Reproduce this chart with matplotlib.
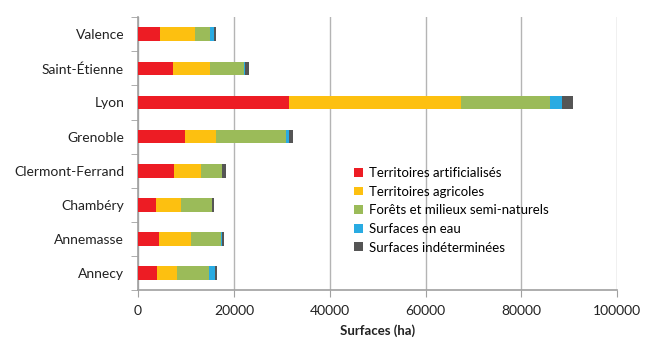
import numpy as np
import matplotlib.pyplot as plt
from matplotlib.patches import Patch

plt.rcParams['font.family'] = ['Lato', 'DejaVu Sans']

villes = ["Annecy", "Annemasse", "Chambéry", "Clermont-Ferrand",
          "Grenoble", "Lyon", "Saint-Étienne", "Valence"]

# surfaces en hectares, même ordre que villes
artificialises = [4000, 4300, 3800, 7600, 9700, 31600, 7400, 4500]
agricoles = [4100, 6800, 5200, 5600, 6500, 35800, 7700, 7300]
forets = [6700, 6300, 6400, 4300, 14700, 18600, 7100, 3300]
eau = [1200, 200, 50, 100, 700, 2500, 200, 700]
indetermines = [400, 300, 300, 800, 800, 2300, 700, 400]

series = [
    ("Territoires artificialisés", artificialises, "#ED1C24"),
    ("Territoires agricoles", agricoles, "#FDC010"),
    ("Forêts et milieux semi-naturels", forets, "#9BBB59"),
    ("Surfaces en eau", eau, "#29ABE2"),
    ("Surfaces indéterminées", indetermines, "#555555"),
]

fig = plt.figure(figsize=(6.45, 3.43), dpi=100)
ax = fig.add_axes([0.214, 0.154, 0.743, 0.796])

y = np.arange(len(villes))
left = np.zeros(len(villes))
for nom, vals, couleur in series:
    ax.barh(y, vals, left=left, height=0.4, color=couleur, zorder=3)
    left += np.array(vals)

ax.set_xlim(0, 100000)
ax.set_ylim(-0.5, len(villes) - 0.5)
ax.set_xticks(np.arange(0, 100001, 20000))
ax.set_yticks(y)
ax.set_yticklabels(villes)
ax.set_yticks(np.arange(-0.5, len(villes), 1.0), minor=True)
ax.tick_params(axis='y', which='major', length=0, pad=10, labelsize=10, colors='#222222')
ax.tick_params(axis='y', which='minor', length=5, color='#A0A0A0')
ax.tick_params(axis='x', length=5, color='#A0A0A0', labelsize=10, colors='#222222', pad=6)

ax.grid(axis='x', color='#B4B4B4', linewidth=1, zorder=0)
for s in ['top', 'right']:
    ax.spines[s].set_visible(False)
for s in ['left', 'bottom']:
    ax.spines[s].set_color('#A0A0A0')
    ax.spines[s].set_linewidth(1.2)

ax.set_xlabel("Surfaces (ha)", fontsize=9.5, fontweight='bold', color='#222222', labelpad=5)

handles = [Patch(facecolor=c, label=n) for n, _, c in series]
ax.legend(handles=handles, loc='upper left', bbox_to_anchor=(0.44, 0.47),
          frameon=False, fontsize=9.5, handlelength=0.65, handleheight=0.65,
          handletextpad=0.45, labelspacing=0.5, borderaxespad=0)

fig.savefig("out.png", dpi=100)
